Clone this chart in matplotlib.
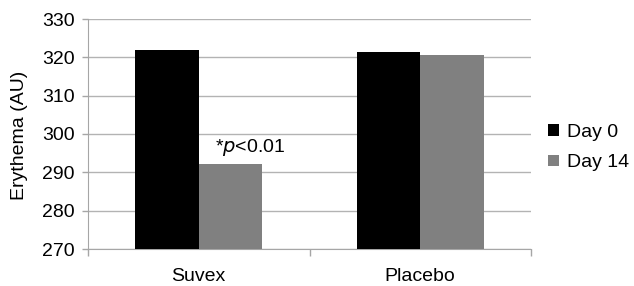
import matplotlib
matplotlib.use("Agg")
import matplotlib.pyplot as plt
import numpy as np

plt.rcParams['font.family'] = ['Liberation Sans', 'DejaVu Sans']

categories = ["Suvex", "Placebo"]
day0 = [321.9, 321.4]
day14 = [292.2, 320.6]
series_names = ["Day 0", "Day 14"]
yticks = [270, 280, 290, 300, 310, 320, 330]

FS = 14
fig = plt.figure(figsize=(6.34, 2.86), dpi=100)
ax = fig.add_axes([88/634, 1 - 249/286, (531-88)/634, (249-19)/286])

x = np.arange(len(categories))
w = 0.287
ax.bar(x - w/2, day0, w, color="#000000", label=series_names[0], zorder=3)
ax.bar(x + w/2, day14, w, color="#808080", label=series_names[1], zorder=3)

ax.set_ylim(270, 330)
ax.set_xlim(-0.5, 1.5)
ax.set_yticks(yticks)
ax.set_yticklabels([str(t) for t in yticks], fontsize=FS)
ax.set_xticks(x)
ax.set_xticklabels(categories, fontsize=FS)
ax.tick_params(axis='x', length=0, pad=14)
ax.tick_params(axis='y', length=4.5, width=1, color="#a6a6a6", pad=5)
ax.set_xticks([-0.5, 0.5, 1.5], minor=True)
ax.tick_params(axis='x', which='minor', length=5, width=1, color="#a6a6a6", direction='out')

ax.grid(axis='y', color="#b3b3b3", linewidth=1, zorder=0)
for s in ["top", "right"]:
    ax.spines[s].set_visible(False)
ax.spines["left"].set_color("#a6a6a6")
ax.spines["bottom"].set_color("#a6a6a6")

fig.text(20/634, 1 - 135/286, "Erythema (AU)", rotation=90, ha="center", va="center", fontsize=FS)

ax.text(0.231, 296.6, r"*$\it{p}$<0.01", ha="center", va="center", fontsize=FS)

leg = ax.legend(loc="center left", frameon=False, fontsize=FS, handlelength=0.55, handleheight=0.55,
                handletextpad=0.45, labelspacing=0.7, borderaxespad=0, borderpad=0)
leg.set_bbox_to_anchor((548/634, 1 - 147.5/286), transform=fig.transFigure)

fig.savefig("out.png", dpi=100)
